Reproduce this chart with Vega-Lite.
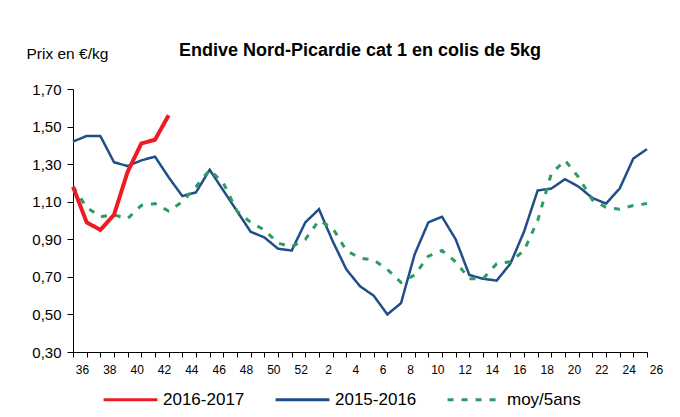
{
  "$schema": "https://vega.github.io/schema/vega-lite/v6.json",
  "width": 574,
  "height": 263,
  "autosize": {"type": "none"},
  "padding": {"left": 73, "top": 89, "right": 33, "bottom": 65},
  "background": "white",
  "title": {"text": "Endive Nord-Picardie cat 1 en colis de 5kg", "font": "Liberation Sans", "fontSize": 18, "fontWeight": "bold", "color": "#000000", "anchor": "middle", "offset": -14},
  "config": {"view": {"stroke": null}, "font": "Liberation Sans"},
  "data": {"values": [
    {"sem": "36", "serie": "2016-2017", "prix": 1.18},
    {"sem": "37", "serie": "2016-2017", "prix": 0.99},
    {"sem": "38", "serie": "2016-2017", "prix": 0.95},
    {"sem": "39", "serie": "2016-2017", "prix": 1.03},
    {"sem": "40", "serie": "2016-2017", "prix": 1.26},
    {"sem": "41", "serie": "2016-2017", "prix": 1.41},
    {"sem": "42", "serie": "2016-2017", "prix": 1.43},
    {"sem": "43", "serie": "2016-2017", "prix": 1.56},
    {"sem": "36", "serie": "2015-2016", "prix": 1.42},
    {"sem": "37", "serie": "2015-2016", "prix": 1.45},
    {"sem": "38", "serie": "2015-2016", "prix": 1.45},
    {"sem": "39", "serie": "2015-2016", "prix": 1.31},
    {"sem": "40", "serie": "2015-2016", "prix": 1.29},
    {"sem": "41", "serie": "2015-2016", "prix": 1.32},
    {"sem": "42", "serie": "2015-2016", "prix": 1.34},
    {"sem": "43", "serie": "2015-2016", "prix": 1.23},
    {"sem": "44", "serie": "2015-2016", "prix": 1.13},
    {"sem": "45", "serie": "2015-2016", "prix": 1.15},
    {"sem": "46", "serie": "2015-2016", "prix": 1.27},
    {"sem": "47", "serie": "2015-2016", "prix": 1.16},
    {"sem": "48", "serie": "2015-2016", "prix": 1.05},
    {"sem": "49", "serie": "2015-2016", "prix": 0.94},
    {"sem": "50", "serie": "2015-2016", "prix": 0.91},
    {"sem": "51", "serie": "2015-2016", "prix": 0.85},
    {"sem": "52", "serie": "2015-2016", "prix": 0.84},
    {"sem": "1", "serie": "2015-2016", "prix": 0.99},
    {"sem": "2", "serie": "2015-2016", "prix": 1.06},
    {"sem": "3", "serie": "2015-2016", "prix": 0.89},
    {"sem": "4", "serie": "2015-2016", "prix": 0.74},
    {"sem": "5", "serie": "2015-2016", "prix": 0.65},
    {"sem": "6", "serie": "2015-2016", "prix": 0.60},
    {"sem": "7", "serie": "2015-2016", "prix": 0.50},
    {"sem": "8", "serie": "2015-2016", "prix": 0.56},
    {"sem": "9", "serie": "2015-2016", "prix": 0.82},
    {"sem": "10", "serie": "2015-2016", "prix": 0.99},
    {"sem": "11", "serie": "2015-2016", "prix": 1.02},
    {"sem": "12", "serie": "2015-2016", "prix": 0.90},
    {"sem": "13", "serie": "2015-2016", "prix": 0.71},
    {"sem": "14", "serie": "2015-2016", "prix": 0.69},
    {"sem": "15", "serie": "2015-2016", "prix": 0.68},
    {"sem": "16", "serie": "2015-2016", "prix": 0.77},
    {"sem": "17", "serie": "2015-2016", "prix": 0.94},
    {"sem": "18", "serie": "2015-2016", "prix": 1.16},
    {"sem": "19", "serie": "2015-2016", "prix": 1.17},
    {"sem": "20", "serie": "2015-2016", "prix": 1.22},
    {"sem": "21", "serie": "2015-2016", "prix": 1.18},
    {"sem": "22", "serie": "2015-2016", "prix": 1.12},
    {"sem": "23", "serie": "2015-2016", "prix": 1.09},
    {"sem": "24", "serie": "2015-2016", "prix": 1.17},
    {"sem": "25", "serie": "2015-2016", "prix": 1.33},
    {"sem": "26", "serie": "2015-2016", "prix": 1.38},
    {"sem": "36", "serie": "moy/5ans", "prix": 1.18},
    {"sem": "37", "serie": "moy/5ans", "prix": 1.07},
    {"sem": "38", "serie": "moy/5ans", "prix": 1.02},
    {"sem": "39", "serie": "moy/5ans", "prix": 1.03},
    {"sem": "40", "serie": "moy/5ans", "prix": 1.01},
    {"sem": "41", "serie": "moy/5ans", "prix": 1.08},
    {"sem": "42", "serie": "moy/5ans", "prix": 1.09},
    {"sem": "43", "serie": "moy/5ans", "prix": 1.05},
    {"sem": "44", "serie": "moy/5ans", "prix": 1.10},
    {"sem": "45", "serie": "moy/5ans", "prix": 1.18},
    {"sem": "46", "serie": "moy/5ans", "prix": 1.27},
    {"sem": "47", "serie": "moy/5ans", "prix": 1.20},
    {"sem": "48", "serie": "moy/5ans", "prix": 1.05},
    {"sem": "49", "serie": "moy/5ans", "prix": 0.99},
    {"sem": "50", "serie": "moy/5ans", "prix": 0.95},
    {"sem": "51", "serie": "moy/5ans", "prix": 0.88},
    {"sem": "52", "serie": "moy/5ans", "prix": 0.86},
    {"sem": "1", "serie": "moy/5ans", "prix": 0.90},
    {"sem": "2", "serie": "moy/5ans", "prix": 1.00},
    {"sem": "3", "serie": "moy/5ans", "prix": 0.96},
    {"sem": "4", "serie": "moy/5ans", "prix": 0.84},
    {"sem": "5", "serie": "moy/5ans", "prix": 0.80},
    {"sem": "6", "serie": "moy/5ans", "prix": 0.79},
    {"sem": "7", "serie": "moy/5ans", "prix": 0.74},
    {"sem": "8", "serie": "moy/5ans", "prix": 0.67},
    {"sem": "9", "serie": "moy/5ans", "prix": 0.71},
    {"sem": "10", "serie": "moy/5ans", "prix": 0.81},
    {"sem": "11", "serie": "moy/5ans", "prix": 0.84},
    {"sem": "12", "serie": "moy/5ans", "prix": 0.78},
    {"sem": "13", "serie": "moy/5ans", "prix": 0.69},
    {"sem": "14", "serie": "moy/5ans", "prix": 0.69},
    {"sem": "15", "serie": "moy/5ans", "prix": 0.77},
    {"sem": "16", "serie": "moy/5ans", "prix": 0.78},
    {"sem": "17", "serie": "moy/5ans", "prix": 0.84},
    {"sem": "18", "serie": "moy/5ans", "prix": 1.00},
    {"sem": "19", "serie": "moy/5ans", "prix": 1.25},
    {"sem": "20", "serie": "moy/5ans", "prix": 1.32},
    {"sem": "21", "serie": "moy/5ans", "prix": 1.23},
    {"sem": "22", "serie": "moy/5ans", "prix": 1.11},
    {"sem": "23", "serie": "moy/5ans", "prix": 1.07},
    {"sem": "24", "serie": "moy/5ans", "prix": 1.06},
    {"sem": "25", "serie": "moy/5ans", "prix": 1.08},
    {"sem": "26", "serie": "moy/5ans", "prix": 1.09}
  ]},
  "encoding": {
    "x": {
      "field": "sem", "type": "ordinal",
      "sort": ["36","37","38","39","40","41","42","43","44","45","46","47","48","49","50","51","52","1","2","3","4","5","6","7","8","9","10","11","12","13","14","15","16","17","18","19","20","21","22","23","24","25","26"],
      "scale": {"type": "point", "padding": 0},
      "axis": {"title": null, "labelAngle": 0, "labelExpr": "toNumber(datum.value) % 2 == 0 ? datum.value : ''", "labelOffset": 9, "labelPadding": 7, "labelFontSize": 12, "labelColor": "#000000", "tickSize": 5, "tickColor": "#000000", "domainColor": "#000000", "grid": false}
    },
    "y": {
      "field": "prix", "type": "quantitative",
      "scale": {"domain": [0.3, 1.7], "nice": false, "zero": false},
      "axis": {"title": "Prix en €/kg", "titleAngle": 0, "titleX": -47, "titleY": -36, "titleAlign": "left", "titleBaseline": "middle", "titleFontWeight": "normal", "titleFontSize": 15.5, "titleColor": "#000000", "values": [0.3, 0.5, 0.7, 0.9, 1.1, 1.3, 1.5, 1.7], "labelExpr": "replace(format(datum.value, '.2f'), '.', ',')", "labelFontSize": 15, "labelColor": "#000000", "labelPadding": 6, "tickSize": 6, "tickColor": "#000000", "domainColor": "#000000", "grid": false}
    },
    "color": {
      "field": "serie", "type": "nominal",
      "scale": {"domain": ["2016-2017", "2015-2016", "moy/5ans"], "range": ["#ED1C24", "#1F4E89", "#2E9C5E"]},
      "legend": {"title": null, "orient": "none", "legendX": 29, "legendY": 282, "direction": "horizontal", "symbolType": "stroke", "symbolSize": 2900, "symbolStrokeWidth": 3, "labelFontSize": 17, "labelColor": "#000000", "labelOffset": 4, "columnPadding": 24}
    },
    "strokeDash": {
      "field": "serie", "type": "nominal",
      "scale": {"domain": ["2016-2017", "2015-2016", "moy/5ans"], "range": [[1, 0], [1, 0], [6, 8]]},
      "legend": {"title": null, "orient": "none", "legendX": 29, "legendY": 282, "direction": "horizontal", "symbolType": "stroke", "symbolSize": 2900, "symbolStrokeWidth": 3, "labelFontSize": 17, "labelColor": "#000000", "labelOffset": 4, "columnPadding": 24}
    }
  },
  "layer": [
    {"transform": [{"filter": "datum.serie == '2015-2016'"}], "mark": {"type": "line", "strokeWidth": 2.5}},
    {"transform": [{"filter": "datum.serie == 'moy/5ans'"}], "mark": {"type": "line", "strokeWidth": 3}},
    {"transform": [{"filter": "datum.serie == '2016-2017'"}], "mark": {"type": "line", "strokeWidth": 4}}
  ]
}
